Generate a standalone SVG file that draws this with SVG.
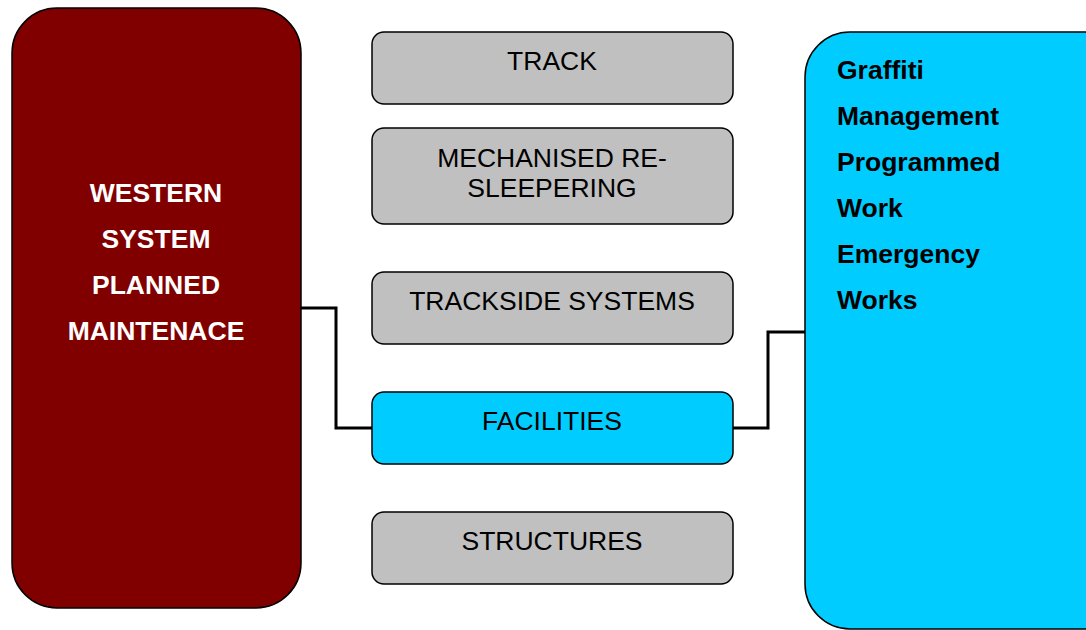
<svg xmlns="http://www.w3.org/2000/svg" width="1086" height="630" viewBox="0 0 1086 630">
<style>
.box{stroke:#000;stroke-width:1.5}
.grey{fill:#c0c0c0}
.cyan{fill:#00ccff}
.maroon{fill:#800000}
.t{font-family:"Liberation Sans",Arial,sans-serif;font-size:26.5px;fill:#000;text-anchor:middle}
.b{font-family:"Liberation Sans",Arial,sans-serif;font-size:26.5px;font-weight:bold}
.conn{fill:none;stroke:#000;stroke-width:3}
</style>
<rect width="1086" height="630" fill="#fff"/>
<g id="connectors">
<polyline class="conn" points="301,308 336,308 336,428 372,428"/>
<polyline class="conn" points="733,428 768,428 768,332 805,332"/>
</g>
<g id="western">
<rect class="box maroon" x="12" y="8" width="289" height="600" rx="45"/>
<text class="b" fill="#fff" text-anchor="middle" x="156" y="202">WESTERN</text>
<text class="b" fill="#fff" text-anchor="middle" x="156" y="248">SYSTEM</text>
<text class="b" fill="#fff" text-anchor="middle" x="156" y="294">PLANNED</text>
<text class="b" fill="#fff" text-anchor="middle" x="156" y="340">MAINTENACE</text>
</g>
<g id="track">
<rect class="box grey" x="372" y="32" width="361" height="72" rx="12"/>
<text class="t" x="552" y="70">TRACK</text>
</g>
<g id="mechanised">
<rect class="box grey" x="372" y="128" width="361" height="96" rx="12"/>
<text class="t" x="552" y="167">MECHANISED RE-</text>
<text class="t" x="552" y="197">SLEEPERING</text>
</g>
<g id="trackside">
<rect class="box grey" x="372" y="272" width="361" height="72" rx="12"/>
<text class="t" x="552" y="310">TRACKSIDE SYSTEMS</text>
</g>
<g id="facilities">
<rect class="box cyan" x="372" y="392" width="361" height="72" rx="12"/>
<text class="t" x="552" y="430">FACILITIES</text>
</g>
<g id="structures">
<rect class="box grey" x="372" y="512" width="361" height="72" rx="12"/>
<text class="t" x="552" y="550">STRUCTURES</text>
</g>
<g id="graffiti">
<rect class="box cyan" x="805" y="32" width="330" height="597" rx="45"/>
<text class="b" fill="#000" x="837" y="79">Graffiti</text>
<text class="b" fill="#000" x="837" y="125">Management</text>
<text class="b" fill="#000" x="837" y="171">Programmed</text>
<text class="b" fill="#000" x="837" y="217">Work</text>
<text class="b" fill="#000" x="837" y="263">Emergency</text>
<text class="b" fill="#000" x="837" y="309">Works</text>
</g>
</svg>
